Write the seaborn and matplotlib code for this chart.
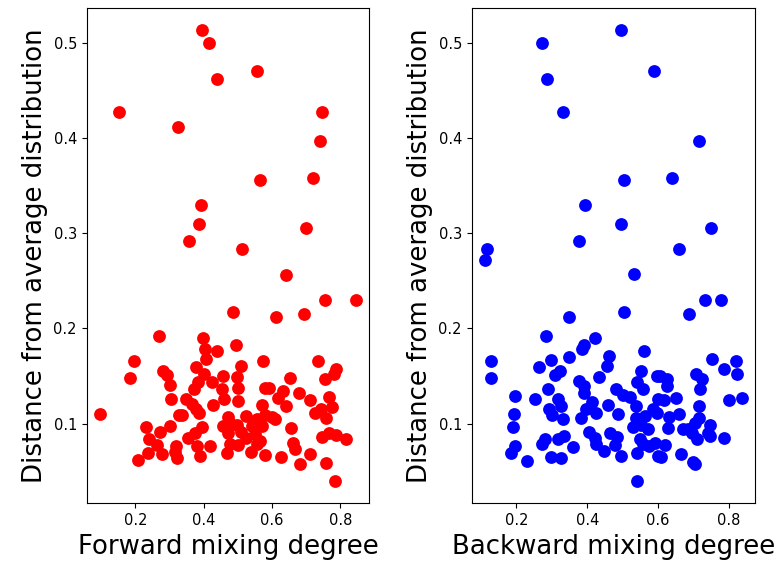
import matplotlib
matplotlib.use("Agg")
import matplotlib.pyplot as plt
import seaborn as sns
import pandas as pd

# Forward mixing degree vs. distance from the average distribution
fwd_x = [0.395, 0.414, 0.557, 0.438, 0.152, 0.747, 0.324, 0.740, 0.564, 0.719,
         0.391, 0.387, 0.699, 0.356, 0.512, 0.641, 0.756, 0.847, 0.487, 0.612, 0.693,
         0.269, 0.196, 0.183, 0.281, 0.293, 0.302, 0.305, 0.095, 0.328, 0.230,
         0.272, 0.300, 0.240, 0.262, 0.236, 0.209, 0.278, 0.320, 0.315, 0.323,
         0.398, 0.494, 0.4035, 0.4395, 0.4055, 0.574, 0.5086, 0.376, 0.400, 0.455,
         0.496, 0.425, 0.384, 0.372, 0.453, 0.501, 0.578, 0.347, 0.366, 0.428,
         0.460, 0.501, 0.571, 0.376, 0.386, 0.336, 0.470, 0.523, 0.556, 0.579,
         0.600, 0.457, 0.4765, 0.496, 0.396, 0.374, 0.5105, 0.540, 0.571, 0.4716,
         0.355, 0.549, 0.564, 0.523, 0.4765, 0.501, 0.418, 0.379, 0.538, 0.467,
         0.389, 0.579, 0.557,
         0.735, 0.788, 0.780, 0.755, 0.6526, 0.632, 0.6176, 0.679, 0.642, 0.712,
         0.766, 0.774, 0.744, 0.725, 0.757, 0.608, 0.654, 0.747, 0.768, 0.788,
         0.815, 0.661, 0.666, 0.627, 0.712, 0.757, 0.682, 0.784, 0.590]
fwd_y = [0.513, 0.500, 0.470, 0.462, 0.427, 0.427, 0.411, 0.397, 0.356, 0.358,
         0.330, 0.310, 0.305, 0.292, 0.283, 0.256, 0.230, 0.230, 0.2175, 0.212, 0.2154,
         0.192, 0.166, 0.1475, 0.155, 0.151, 0.141, 0.1255, 0.1105, 0.109, 0.096,
         0.091, 0.0975, 0.084, 0.0776, 0.069, 0.0615, 0.0678, 0.0765, 0.070, 0.0643,
         0.190, 0.183, 0.178, 0.176, 0.1675, 0.166, 0.161, 0.159, 0.1517, 0.150,
         0.149, 0.144, 0.1437, 0.1367, 0.1367, 0.137, 0.137, 0.126, 0.121, 0.1195,
         0.1255, 0.1237, 0.120, 0.115, 0.111, 0.1087, 0.1073, 0.108, 0.1045, 0.1087,
         0.1073, 0.0975, 0.101, 0.099, 0.0965, 0.0905, 0.091, 0.0975, 0.0975, 0.0898,
         0.0853, 0.0888, 0.0817, 0.0853, 0.0783, 0.0772, 0.0765, 0.0765, 0.070, 0.0688,
         0.066, 0.067, 0.0783,
         0.1657, 0.1577, 0.1525, 0.1465, 0.148, 0.134, 0.127, 0.1325, 0.119, 0.1248,
         0.128, 0.117, 0.1157, 0.1115, 0.1063, 0.1045, 0.095, 0.086, 0.0905, 0.0877,
         0.0835, 0.0793, 0.073, 0.0654, 0.0685, 0.059, 0.0573, 0.040, 0.137]

# Backward mixing degree vs. distance from the average distribution
bwd_x = [0.495, 0.271, 0.587, 0.286, 0.331, 0.714, 0.504, 0.639, 0.394, 0.495,
         0.748, 0.377, 0.117, 0.110, 0.659, 0.532, 0.731, 0.777, 0.348, 0.504, 0.686,
         0.282, 0.128, 0.127, 0.297, 0.263, 0.322, 0.310, 0.289, 0.195, 0.2526,
         0.316, 0.327, 0.292, 0.3005, 0.193, 0.3316, 0.1896, 0.280, 0.272, 0.3175,
         0.334, 0.195, 0.186, 0.229, 0.297, 0.325,
         0.421, 0.390, 0.386, 0.347, 0.461, 0.457, 0.559, 0.433, 0.553, 0.597,
         0.377, 0.390, 0.390, 0.482, 0.540, 0.557, 0.501, 0.520, 0.4585, 0.537,
         0.412, 0.3976, 0.424, 0.4868, 0.383, 0.537, 0.562, 0.5855, 0.529, 0.553,
         0.571, 0.405, 0.421, 0.463, 0.484, 0.360, 0.424, 0.446, 0.4775, 0.494,
         0.540, 0.557, 0.574, 0.5415, 0.548, 0.5996, 0.5996,
         0.752, 0.819, 0.785, 0.8236, 0.708, 0.724, 0.717, 0.604, 0.626, 0.626,
         0.799, 0.837, 0.6166, 0.649, 0.715, 0.715, 0.703, 0.659, 0.631, 0.598,
         0.7455, 0.741, 0.670, 0.684, 0.6955, 0.628, 0.7455, 0.711, 0.785, 0.6185,
         0.609, 0.6637, 0.698, 0.703, 0.590]
bwd_y = [0.513, 0.500, 0.470, 0.462, 0.427, 0.397, 0.356, 0.358, 0.330, 0.310,
         0.305, 0.292, 0.2835, 0.2717, 0.283, 0.257, 0.230, 0.230, 0.212, 0.2175, 0.2154,
         0.192, 0.166, 0.1475, 0.1667, 0.159, 0.155, 0.1507, 0.136, 0.1286, 0.1258,
         0.126, 0.1185, 0.1157, 0.1087, 0.1105, 0.1045, 0.0965, 0.0843, 0.0783, 0.0835,
         0.087, 0.0765, 0.0688, 0.061, 0.0654, 0.0643,
         0.190, 0.183, 0.178, 0.170, 0.171, 0.160, 0.176, 0.149, 0.155, 0.150,
         0.1447, 0.140, 0.1325, 0.1367, 0.1437, 0.1367, 0.1297, 0.1283, 0.1195, 0.1185,
         0.1227, 0.115, 0.1115, 0.1098, 0.1063, 0.1063, 0.108, 0.115, 0.0968, 0.099,
         0.094, 0.091, 0.0853, 0.0898, 0.0864, 0.0759, 0.0783, 0.0713, 0.0772, 0.066,
         0.0688, 0.0783, 0.0765, 0.040, 0.0835, 0.066, 0.1255,
         0.1677, 0.1657, 0.1577, 0.1525, 0.1517, 0.147, 0.1367, 0.150, 0.1465, 0.139,
         0.1248, 0.127, 0.1248, 0.127, 0.1185, 0.1063, 0.1003, 0.1098, 0.1073, 0.1115,
         0.0983, 0.0898, 0.094, 0.094, 0.0898, 0.095, 0.087, 0.0835, 0.0853, 0.0772,
         0.0654, 0.0678, 0.0597, 0.0573, 0.080]

panels = [
    (fwd_x, fwd_y, "red", "Forward mixing degree"),
    (bwd_x, bwd_y, "blue", "Backward mixing degree"),
]

fig = plt.figure(figsize=(7.78, 5.67), dpi=100)
ax_left = fig.add_axes([0.1114, 0.1123, 0.3633, 0.8741])
ax_right = fig.add_axes([0.6063, 0.1123, 0.3641, 0.8741])

for ax, (xs, ys, colour, xlabel) in zip([ax_left, ax_right], panels):
    df = pd.DataFrame({"mix": xs, "dist": ys})
    sns.scatterplot(data=df, x="mix", y="dist", color=colour, s=85,
                    linewidth=0, ax=ax)
    ax.set_xticks([0.2, 0.4, 0.6, 0.8])
    ax.set_yticks([0.1, 0.2, 0.3, 0.4, 0.5])
    ax.tick_params(labelsize=10.5)
    ax.set_xlabel(xlabel, fontsize=18.7)
    ax.set_ylabel("Distance from average distribution", fontsize=18.7)

fig.savefig("out.png", dpi=100)
